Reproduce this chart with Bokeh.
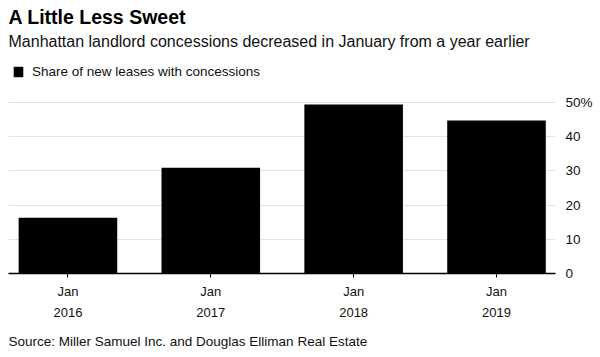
from bokeh.plotting import figure
from bokeh.models import (Title, Legend, LegendItem, FixedTicker, Range1d,
                          ColumnDataSource)
from bokeh.embed import file_html
from bokeh.resources import INLINE

# ---- data ----
years = ["2016", "2017", "2018", "2019"]
x_tick_labels = ["Jan\n2016", "Jan\n2017", "Jan\n2018", "Jan\n2019"]
share = [16.3, 30.9, 49.4, 44.7]
y_ticks = [0, 10, 20, 30, 40, 50]
y_tick_labels = ["0", "10", "20", "30", "40", "50%"]

title_text = "A Little Less Sweet"
subtitle_text = "Manhattan landlord concessions decreased in January from a year earlier"
legend_text = "Share of new leases with concessions"
source_text = "Source: Miller Samuel Inc. and Douglas Elliman Real Estate"

FONT = "Liberation Sans"

x_pos = list(range(len(years)))
src = ColumnDataSource(dict(x=x_pos, share=share, year=years))

p = figure(width=598, height=357, output_backend="svg", toolbar_location=None,
           x_range=Range1d(-0.416, len(years) - 1 + 0.413),
           y_range=Range1d(0, 65.2), y_axis_location="right", title=None,
           min_border_left=8, min_border_right=43, min_border_top=0,
           min_border_bottom=0)
p.outline_line_color = None
p.background_fill_color = "white"
p.border_fill_color = "white"

r = p.vbar(x="x", top="share", width=0.69, source=src,
           fill_color="black", line_color=None)

# axes
xa = p.xaxis[0]
xa.ticker = FixedTicker(ticks=x_pos)
xa.major_label_overrides = {i: lbl for i, lbl in zip(x_pos, x_tick_labels)}
xa.axis_line_color = "black"
xa.axis_line_width = 1.5
xa.major_tick_in = 0
xa.major_tick_out = 4
xa.major_tick_line_color = "black"
xa.minor_tick_line_color = None
xa.major_label_standoff = 6
xa.major_label_text_font = FONT
xa.major_label_text_font_size = "13px"
xa.major_label_text_line_height = 1.4
xa.major_label_text_color = "#111111"

ya = p.yaxis[0]
ya.ticker = FixedTicker(ticks=y_ticks)
ya.major_label_overrides = {t: lbl for t, lbl in zip(y_ticks, y_tick_labels)}
ya.axis_line_color = None
ya.major_tick_line_color = None
ya.minor_tick_line_color = None
ya.major_tick_in = 0
ya.major_tick_out = 0
ya.major_label_standoff = 10
ya.major_label_text_font = FONT
ya.major_label_text_font_size = "13.5px"
ya.major_label_text_color = "#111111"

p.xgrid.visible = False
p.ygrid.ticker = FixedTicker(ticks=y_ticks)
p.ygrid.grid_line_color = "#e2e2e2"
p.ygrid.grid_line_width = 1

# legend inside the (blank) upper part of the frame
legend = Legend(items=[LegendItem(label=legend_text, renderers=[r])],
                location=(4, 194), orientation="horizontal",
                border_line_alpha=0, background_fill_alpha=0,
                label_text_font=FONT, label_text_font_size="13.5px",
                label_text_color="#111111", label_height=13,
                glyph_width=12, glyph_height=13, label_standoff=8,
                padding=0, margin=0)
p.add_layout(legend, "center")

p.add_layout(Title(text=subtitle_text, text_font=FONT, text_font_size="16px",
                   text_font_style="normal", text_color="#111111",
                   align="left", offset=0, standoff=1), "above")
p.add_layout(Title(text=title_text, text_font=FONT, text_font_size="19.5px",
                   text_font_style="bold", text_color="black",
                   align="left", offset=0, standoff=6), "above")

p.add_layout(Title(text=source_text, text_font=FONT, text_font_size="13.5px",
                   text_font_style="normal", text_color="#111111",
                   align="left", offset=0, standoff=18), "below")

open("out.html", "w").write(file_html(p, INLINE))
